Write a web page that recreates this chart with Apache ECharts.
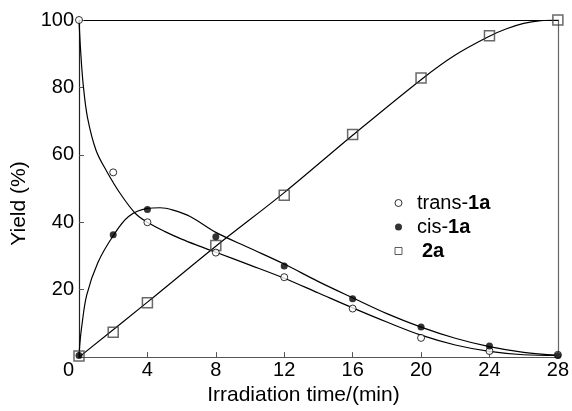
<!DOCTYPE html>
<html><head><meta charset="utf-8">
<script src="https://cdn.jsdelivr.net/npm/echarts@6/dist/echarts.min.js"></script>
<style>html,body{margin:0;padding:0;background:#fff}#c{width:572px;height:411px}</style>
</head><body><div id="c"></div>
<script>
// measured points
const transPts = [[0,100],[2,54.8],[4,40],[8,31],[12,23.7],[16,14.4],[20,5.7],[24,1.8],[28,0.7]];
const cisPts   = [[0,0.5],[2,36.3],[4,43.8],[8,35.7],[12,27],[16,17.3],[20,8.9],[24,3.3],[28,0.5]];
const twoAPts  = [[0,0.3],[2,7.4],[4,16.1],[8,33.1],[12,48],[16,66],[20,82.8],[24,95.3],[28,100]];
// fitted curves
const transFit = [[0,100],[0.1,90.5],[0.25,80.6],[0.5,71],[1,61.3],[1.6,55.3],[2.4,48.6],[3.3,42.6],[4,40],[5,37.3],[6,35],[7,33],[8,31.1],[10,27.3],[12,23.4],[14,19],[16,14.6],[18,10.4],[20,6.5],[22,3.6],[24,1.7],[26,0.7],[28,0.5]];
const cisFit   = [[0,0],[0.05,4],[0.15,8.7],[0.45,18.4],[1.1,28],[2,36],[2.9,41.7],[4,44.1],[4.75,44.3],[5.5,43.6],[6.5,41.7],[8,37],[10,32.3],[12,27.6],[14,22.4],[16,17.6],[18,12.9],[20,8.9],[22,5.6],[24,3.1],[26,1.4],[28,0.5]];
const twoAFit  = [[0,0],[4,16.3],[8,32.9],[12,48.8],[16,65.8],[20,82.3],[22,89.6],[24,95.2],[25,97.4],[26,99],[27,99.8],[28,100]];
const xTicks = [0,4,8,12,16,20,24,28];
const yTicks = [0,20,40,60,80,100];
const seriesNames = ['trans-1a','cis-1a','2a'];
const xName = 'Irradiation time/(min)';
const yName = 'Yield (%)';

const FONT = 'Liberation Sans, Arial, sans-serif';
const chart = echarts.init(document.getElementById('c'), null, {renderer:'canvas'});
const lineStyle = {color:'#000', width:1.2};
function fitSeries(d){ return {type:'line', data:d, smooth:0.35, showSymbol:false, symbol:'none', lineStyle:lineStyle, silent:true, z:2}; }
chart.setOption({
  animation:false,
  backgroundColor:'#fff',
  grid:{left:79, right:14, top:20, bottom:48, containLabel:false},
  legend:{
    orient:'vertical', left:394.5, top:193, padding:0, itemGap:4,
    itemWidth:7, itemHeight:7,
    data:[
      {name:seriesNames[0], icon:'circle', itemStyle:{color:'#fff', borderColor:'#000', borderWidth:1}},
      {name:seriesNames[1], icon:'circle', itemStyle:{color:'#000', borderColor:'#000', borderWidth:0}},
      {name:seriesNames[2], icon:'rect', itemStyle:{color:'#fff', borderColor:'#333', borderWidth:1}}
    ],
    formatter:function(n){
      if(n==='2a') return '{s|2a}';
      const p = n.split('-');
      return '{n|'+p[0]+'-}{b|'+p[1]+'}';
    },
    textStyle:{fontFamily:FONT, fontSize:20, color:'#000', lineHeight:20,
      rich:{n:{fontFamily:FONT,fontSize:20,color:'#000',padding:[0,0,0,10]},
            b:{fontFamily:FONT,fontSize:20,color:'#000',fontWeight:'bold'},
            s:{fontFamily:FONT,fontSize:20,color:'#000',fontWeight:'bold',padding:[0,0,0,15]}}}
  },
  xAxis:[{
    type:'value', min:xTicks[0], max:xTicks[xTicks.length-1], interval:4, position:'bottom',
    name:xName, nameLocation:'middle', nameGap:20,
    nameTextStyle:{fontFamily:FONT, fontSize:21, color:'#000', padding:[0,30,0,0]},
    axisLine:{onZero:false, lineStyle:{color:'#555', width:1.2}},
    axisTick:{inside:true, length:5, lineStyle:{color:'#555'}},
    axisLabel:{margin:3, fontFamily:FONT, fontSize:20, color:'#000',
      formatter:function(v){ return v===0 ? '{z|0}' : String(v); },
      rich:{z:{fontFamily:FONT,fontSize:20,color:'#000',padding:[0,21,0,0]}}},
    splitLine:{show:false}
  },{
    type:'value', min:0, max:28, position:'top',
    axisLine:{onZero:false, lineStyle:{color:'#000', width:1.2}},
    axisTick:{show:false}, axisLabel:{show:false}, splitLine:{show:false}
  }],
  yAxis:[{
    type:'value', min:yTicks[0], max:yTicks[yTicks.length-1], interval:20, position:'left',
    name:yName, nameLocation:'middle', nameGap:46,
    nameTextStyle:{fontFamily:FONT, fontSize:21, color:'#000', padding:[0,0,0,-30]},
    axisLine:{show:true, onZero:false, lineStyle:{color:'#222', width:1.2}},
    axisTick:{show:true, inside:true, length:5, lineStyle:{color:'#555'}},
    axisLabel:{margin:5, fontFamily:FONT, fontSize:20, color:'#000',
      formatter:function(v){ return v===0 ? '' : String(v); }},
    splitLine:{show:false}
  },{
    type:'value', min:0, max:100, position:'right',
    axisLine:{show:true, onZero:false, lineStyle:{color:'#666', width:1.2}},
    axisTick:{show:false}, axisLabel:{show:false}, splitLine:{show:false}
  }],
  series:[
    fitSeries(transFit), fitSeries(cisFit), fitSeries(twoAFit),
    {name:seriesNames[2], type:'scatter', data:twoAPts, symbol:'rect', symbolSize:10, clip:false, z:4,
      itemStyle:{color:'rgba(255,255,255,0)', borderColor:'#444', borderWidth:1.5}},
    {name:seriesNames[0], type:'scatter', data:transPts, symbol:'circle', symbolSize:7, clip:false, z:5,
      itemStyle:{color:'#fff', borderColor:'#000', borderWidth:1}},
    {name:seriesNames[1], type:'scatter', data:cisPts, symbol:'circle', symbolSize:7, clip:false, z:5,
      itemStyle:{color:'#000', borderColor:'#000', borderWidth:0}}
  ]
});
</script></body></html>
